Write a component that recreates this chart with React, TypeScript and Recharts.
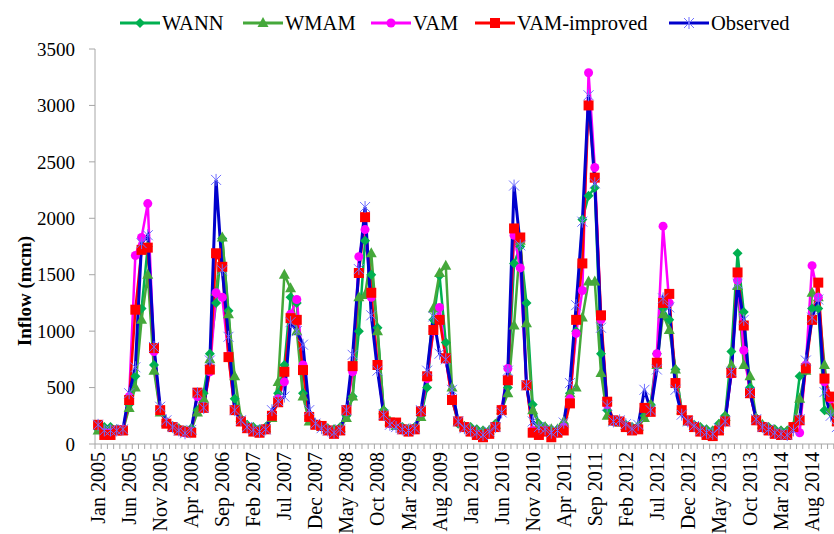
import React from 'react';
import { LineChart, Line, XAxis, YAxis, Legend } from 'recharts';

const monthNames = ['Jan', 'Feb', 'Mar', 'Apr', 'May', 'Jun', 'Jul', 'Aug', 'Sep', 'Oct', 'Nov', 'Dec'];
const years = [2005, 2006, 2007, 2008, 2009, 2010, 2011, 2012, 2013, 2014];
const yTicks = [0, 500, 1000, 1500, 2000, 2500, 3000, 3500];

const observed = [
  170, 120, 120, 120, 130, 450, 680, 1780, 1850, 860, 330, 210,
  150, 120, 95, 125, 450, 320, 740, 2340, 1540, 950, 300, 210,
  150, 125, 110, 130, 300, 380, 420, 1080, 1000, 880, 300, 180,
  140, 120, 100, 130, 300, 790, 1550, 2100, 1140, 650, 260, 170,
  150, 130, 120, 140, 300, 650, 1130, 800, 750, 480, 200, 140,
  120, 100, 80, 110, 150, 280, 650, 2290, 1760, 520, 200, 150,
  130, 100, 120, 190, 540, 1230, 1970, 3090, 2310, 1030, 340, 200,
  210, 175, 135, 170, 480, 300, 660, 1290, 1210, 480, 260, 200,
  160, 120, 100, 90, 140, 200, 640, 1420, 1100, 460, 220, 150,
  130, 100, 90, 80, 120, 220, 740, 1120, 1280, 460, 250, 150,
];

const vamImproved = [
  170, 80, 80, 120, 120, 390, 1190, 1720, 1740, 850, 300, 180,
  150, 120, 110, 100, 455, 320, 660, 1690, 1570, 770, 300, 200,
  140, 110, 100, 130, 250, 370, 640, 1115, 1100, 655, 240, 170,
  160, 120, 90, 120, 300, 690, 1515, 2010, 1340, 700, 250, 190,
  190, 130, 110, 130, 290, 600, 1010, 1100, 760, 390, 200, 150,
  110, 80, 60, 90, 150, 300, 565, 1910, 1830, 520, 100, 80,
  110, 60, 100, 120, 360, 1100, 1600, 3000, 2360, 1140, 375, 210,
  200, 150, 120, 130, 320, 285, 720, 1250, 1330, 540, 300, 210,
  150, 110, 80, 70, 120, 200, 630, 1520, 1050, 450, 210, 150,
  120, 90, 80, 80, 150, 210, 670, 1100, 1430, 580, 420, 200,
];

const vam = [
  170, 100, 100, 120, 130, 420, 1670, 1830, 2130, 820, 300, 190,
  150, 120, 100, 110, 420, 330, 640, 1340, 1300, 780, 300, 200,
  140, 110, 100, 130, 260, 400, 550, 1150, 1280, 700, 250, 170,
  160, 120, 90, 120, 290, 640, 1660, 1900, 1300, 700, 250, 180,
  180, 130, 110, 130, 280, 580, 1000, 1210, 750, 400, 200, 150,
  110, 80, 70, 90, 150, 310, 670, 1850, 1560, 520, 120, 90,
  120, 80, 100, 150, 400, 980, 1360, 3290, 2450, 1100, 350, 200,
  200, 150, 120, 130, 320, 290, 800, 1930, 1250, 540, 300, 200,
  150, 110, 80, 70, 120, 200, 620, 1450, 830, 450, 210, 150,
  120, 90, 80, 80, 140, 100, 700, 1580, 1300, 550, 400, 200,
];

const wann = [
  130, 150, 150, 130, 130, 350, 600, 1200, 1750, 700, 300, 200,
  160, 140, 120, 140, 300, 450, 800, 1250, 1820, 1180, 400, 220,
  170, 150, 130, 150, 250, 450, 700, 1300, 1250, 450, 220, 180,
  160, 140, 130, 150, 250, 420, 1000, 1800, 1500, 1030, 300, 200,
  170, 150, 130, 150, 250, 500, 1100, 1490, 900, 400, 180, 160,
  150, 130, 120, 120, 180, 300, 500, 1600, 1750, 1250, 350, 180,
  150, 120, 130, 180, 450, 1000, 1990, 2200, 2270, 800, 300, 200,
  200, 170, 150, 160, 250, 350, 800, 1200, 1100, 660, 300, 200,
  170, 150, 130, 120, 180, 250, 820, 1690, 1170, 500, 230, 170,
  150, 130, 120, 120, 160, 600, 650, 1200, 1200, 300, 280, 200,
];

const wmam = [
  120, 130, 130, 120, 120, 320, 500, 1100, 1500, 650, 280, 190,
  150, 130, 110, 120, 280, 400, 750, 1350, 1830, 1150, 600, 230,
  160, 140, 120, 140, 230, 550, 1500, 1380, 1000, 420, 200, 170,
  150, 130, 120, 140, 230, 420, 1300, 1320, 1690, 1000, 300, 200,
  160, 140, 130, 140, 240, 600, 1200, 1515, 1580, 500, 200, 150,
  140, 120, 110, 120, 170, 300, 450, 1050, 1800, 1070, 300, 170,
  150, 130, 130, 200, 450, 500, 1120, 1440, 1440, 630, 250, 200,
  190, 160, 140, 150, 230, 350, 700, 1150, 1010, 660, 300, 200,
  160, 140, 120, 110, 170, 240, 700, 1400, 700, 600, 230, 170,
  140, 120, 110, 110, 150, 400, 650, 1340, 1300, 700, 300, 200,
];

const monthLabels = years.flatMap((y) => monthNames.map((m) => `${m} ${y}`));

const data = monthLabels.map((label, i) => ({
  month: label,
  WANN: wann[i],
  WMAM: wmam[i],
  VAM: vam[i],
  'VAM-improved': vamImproved[i],
  Observed: observed[i],
}));

const FONT = 'Liberation Serif, Times New Roman, serif';
const CHART_W = 850;
const CHART_H = 534;
const MARGIN = { top: 49, right: 10, bottom: 0, left: 0 };
const Y_W = 95;
const PLOT_W = CHART_W - MARGIN.left - MARGIN.right - Y_W;
const HALF_BAND = PLOT_W / data.length / 2;

const COLORS = {
  WANN: '#00B050',
  WMAM: '#45A83A',
  VAM: '#FF00FF',
  'VAM-improved': '#FF0000',
  Observed: '#0000CC',
};

const markerPath = (kind: string, cx: number, cy: number) => {
  switch (kind) {
    case 'diamond':
      return `M${cx},${cy - 5}L${cx + 5},${cy}L${cx},${cy + 5}L${cx - 5},${cy}Z`;
    case 'triangle':
      return `M${cx},${cy - 6}L${cx + 5.5},${cy + 4}L${cx - 5.5},${cy + 4}Z`;
    case 'square':
      return `M${cx - 5},${cy - 5}h10v10h-10Z`;
    default:
      return '';
  }
};

const Marker = ({ kind, cx, cy, color }: { kind: string; cx: number; cy: number; color: string }) => {
  if (kind === 'circle') return <circle cx={cx} cy={cy} r={4.5} fill={color} />;
  if (kind === 'star') {
    const s = 5;
    return (
      <path
        d={`M${cx - s},${cy - s}L${cx + s},${cy + s}M${cx - s},${cy + s}L${cx + s},${cy - s}M${cx},${cy - s - 1}L${cx},${cy + s + 1}`}
        stroke="#6F6FFF"
        strokeWidth={1}
        fill="none"
      />
    );
  }
  return <path d={markerPath(kind, cx, cy)} fill={color} />;
};

const makeDot = (kind: string, color: string) => (props: any) => {
  const { cx, cy, index } = props;
  if (cx == null || cy == null) return <g key={`e-${index}`} />;
  return (
    <g key={`${kind}-${index}`}>
      <Marker kind={kind} cx={cx} cy={cy} color={color} />
    </g>
  );
};

const XTick = (props: any) => {
  const { x, y, payload, index } = props;
  const idx = payload && payload.index != null ? payload.index : index;
  const bx = x - HALF_BAND;
  return (
    <g>
      <line x1={bx} y1={y} x2={bx} y2={y + 5} stroke="#A6A6A6" strokeWidth={1} />
      {idx === data.length - 1 && (
        <line x1={x + HALF_BAND} y1={y} x2={x + HALF_BAND} y2={y + 5} stroke="#A6A6A6" strokeWidth={1} />
      )}
      {idx % 5 === 0 && (
        <text
          x={0}
          y={0}
          transform={`translate(${x},${y + 8}) rotate(-90)`}
          textAnchor="end"
          dominantBaseline="central"
          fontFamily={FONT}
          fontSize={20}
          fill="#000"
        >
          {payload.value}
        </text>
      )}
    </g>
  );
};

const legendItems = [
  { name: 'WANN', kind: 'diamond', x: 120 },
  { name: 'WMAM', kind: 'triangle', x: 243 },
  { name: 'VAM', kind: 'circle', x: 371 },
  { name: 'VAM-improved', kind: 'square', x: 475 },
  { name: 'Observed', kind: 'star', x: 669 },
];

const renderLegend = () => (
  <svg width={834} height={40} style={{ display: 'block' }}>
    {legendItems.map((it) => {
      const color = (COLORS as any)[it.name];
      const lineColor = it.name === 'Observed' ? '#0000CC' : color;
      return (
        <g key={it.name}>
          <line x1={it.x} y1={23} x2={it.x + 40} y2={23} stroke={lineColor} strokeWidth={3} />
          <Marker kind={it.kind} cx={it.x + 20} cy={23} color={color} />
          <text x={it.x + 42} y={29.5} fontFamily={FONT} fontSize={20.5} fill="#000">
            {it.name}
          </text>
        </g>
      );
    })}
  </svg>
);

const series = [
  { key: 'WANN', kind: 'diamond', width: 2.5 },
  { key: 'WMAM', kind: 'triangle', width: 2.5 },
  { key: 'VAM', kind: 'circle', width: 2.5 },
  { key: 'VAM-improved', kind: 'square', width: 2.5 },
  { key: 'Observed', kind: 'star', width: 3 },
];

export default function App() {
  return (
    <div
      style={{
        position: 'absolute',
        left: 0,
        top: 0,
        width: 834,
        height: 534,
        overflow: 'hidden',
        background: '#fff',
      }}
    >
      <LineChart width={CHART_W} height={CHART_H} data={data} margin={MARGIN}>
        <XAxis
          dataKey="month"
          interval={0}
          tick={<XTick />}
          tickLine={false}
          tickSize={0}
          tickMargin={0}
          height={90}
          padding={{ left: HALF_BAND, right: HALF_BAND }}
          axisLine={{ stroke: '#A6A6A6', strokeWidth: 1 }}
        />
        <YAxis
          domain={[0, 3500]}
          ticks={yTicks}
          interval={0}
          width={Y_W}
          tickSize={6}
          tickMargin={14}
          tickLine={{ stroke: '#A6A6A6' }}
          axisLine={{ stroke: '#A6A6A6', strokeWidth: 1 }}
          tick={{ fontFamily: FONT, fontSize: 19, fill: '#000' }}
          label={() => (
            <text
              x={0}
              y={0}
              transform="translate(24,291) rotate(-90)"
              textAnchor="middle"
              dominantBaseline="central"
              fontFamily={FONT}
              fontSize={19}
              fontWeight="bold"
              fill="#000"
            >
              Inflow (mcm)
            </text>
          )}
        />
        <Legend
          layout="horizontal"
          align="center"
          verticalAlign="middle"
          wrapperStyle={{ top: 0, left: 0, width: 834, height: 40 }}
          content={renderLegend}
        />
        {series.map((s) => {
          const color = (COLORS as any)[s.key];
          return (
            <Line
              key={s.key}
              type="linear"
              dataKey={s.key}
              stroke={color}
              strokeWidth={s.width}
              dot={makeDot(s.kind, color)}
              activeDot={false}
              isAnimationActive={false}
            />
          );
        })}
      </LineChart>
    </div>
  );
}
